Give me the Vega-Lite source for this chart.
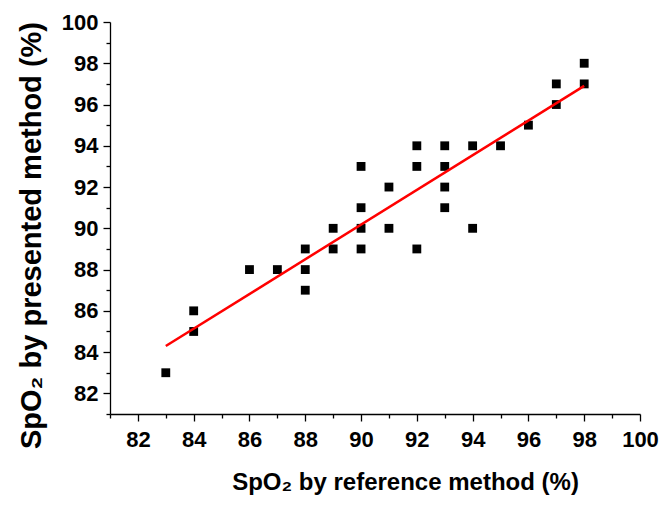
{
  "$schema": "https://vega.github.io/schema/vega-lite/v6.json",
  "width": 530,
  "height": 392,
  "autosize": {"type": "none"},
  "padding": {"left": 110, "top": 22, "right": 20, "bottom": 92},
  "background": "white",
  "config": {
    "view": {"stroke": null},
    "axis": {
      "labelFont": "Liberation Sans",
      "labelFontWeight": "bold",
      "labelFontSize": 22,
      "labelColor": "#000",
      "titleFont": "Liberation Sans",
      "titleFontWeight": "bold",
      "titleFontSize": 24,
      "titleColor": "#000",
      "domainColor": "#000",
      "domainWidth": 1.3,
      "tickColor": "#000",
      "tickWidth": 1.3,
      "grid": false
    }
  },
  "data": {
    "values": [
      {"ref": 83, "pres": 83}, {"ref": 84, "pres": 86}, {"ref": 84, "pres": 85},
      {"ref": 86, "pres": 88}, {"ref": 87, "pres": 88}, {"ref": 88, "pres": 89},
      {"ref": 88, "pres": 88}, {"ref": 88, "pres": 87}, {"ref": 89, "pres": 90},
      {"ref": 89, "pres": 89}, {"ref": 90, "pres": 93}, {"ref": 90, "pres": 91},
      {"ref": 90, "pres": 90}, {"ref": 90, "pres": 89}, {"ref": 91, "pres": 92},
      {"ref": 91, "pres": 90}, {"ref": 92, "pres": 94}, {"ref": 92, "pres": 93},
      {"ref": 92, "pres": 89}, {"ref": 93, "pres": 94}, {"ref": 93, "pres": 93},
      {"ref": 93, "pres": 92}, {"ref": 93, "pres": 91}, {"ref": 94, "pres": 94},
      {"ref": 94, "pres": 90}, {"ref": 95, "pres": 94}, {"ref": 96, "pres": 95},
      {"ref": 97, "pres": 97}, {"ref": 97, "pres": 96}, {"ref": 98, "pres": 98},
      {"ref": 98, "pres": 97}
    ]
  },
  "encoding": {
    "x": {
      "field": "ref", "type": "quantitative",
      "scale": {"domain": [81, 100], "nice": false, "zero": false},
      "axis": {
        "title": "SpO₂ by reference method (%)",
        "titleX": 295,
        "values": [81,82,83,84,85,86,87,88,89,90,91,92,93,94,95,96,97,98,99,100],
        "labelExpr": "datum.value % 2 === 0 ? datum.label : ''",
        "labelFontWeight": "bold",
        "labelFontSize": 22,
        "tickSize": {"condition": {"test": "datum.value % 2 === 0", "value": 7}, "value": 4},
        "labelPadding": 8,
        "titlePadding": 20,
        "labelFlush": false,
        "labelOverlap": false
      }
    },
    "y": {
      "field": "pres", "type": "quantitative",
      "scale": {"domain": [81, 100], "nice": false, "zero": false},
      "axis": {
        "title": "SpO₂ by presented method (%)",
        "titleFontSize": 29,
        "titleY": 213,
        "values": [81,82,83,84,85,86,87,88,89,90,91,92,93,94,95,96,97,98,99,100],
        "labelExpr": "datum.value % 2 === 0 ? datum.label : ''",
        "labelFontWeight": "bold",
        "labelFontSize": 22,
        "tickSize": {"condition": {"test": "datum.value % 2 === 0", "value": 7}, "value": 4},
        "labelPadding": 5,
        "titlePadding": 15,
        "labelFlush": false,
        "labelOverlap": false
      }
    }
  },
  "layer": [
    {
      "mark": {"type": "point", "shape": "square", "filled": true, "color": "#000", "size": 78, "opacity": 1}
    },
    {
      "transform": [{"regression": "pres", "on": "ref"}],
      "mark": {"type": "line", "color": "#ff0000", "strokeWidth": 2.5}
    }
  ]
}
